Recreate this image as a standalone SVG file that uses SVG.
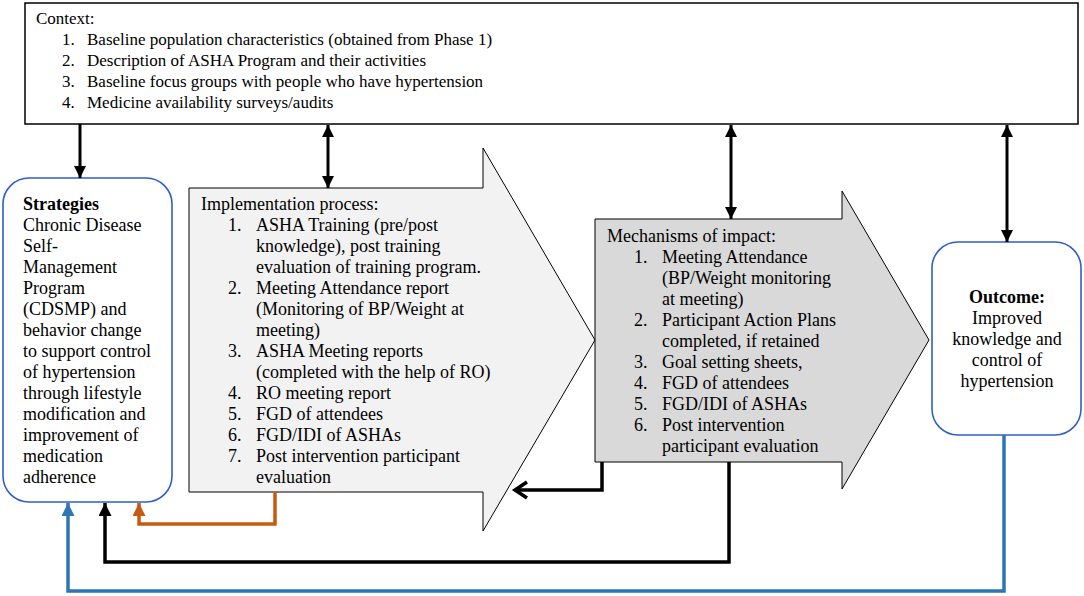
<svg xmlns="http://www.w3.org/2000/svg" width="1084" height="596" viewBox="0 0 1084 596">
<style>
text{font-family:"Liberation Serif","Times New Roman",serif;font-size:18px;fill:#000}
#context text{font-size:17px}
.b{font-weight:bold}
.box{fill:#fff;stroke:#000;stroke-width:1.5}
.rbox{fill:#fff;stroke:#2f5fc4;stroke-width:1.6}
.k{fill:none;stroke:#000;stroke-width:3.5}
.o{fill:none;stroke:#c55a11;stroke-width:3.5}
.bl{fill:none;stroke:#2e75b6;stroke-width:3.5}
</style>
<defs>
<marker id="ak" markerUnits="userSpaceOnUse" markerWidth="12" markerHeight="12" refX="10" refY="5" orient="auto-start-reverse" viewBox="0 0 10 10"><path d="M0,0 L10,5 L0,10 z" fill="#000"/></marker>
<marker id="ao" markerUnits="userSpaceOnUse" markerWidth="13" markerHeight="13" refX="10" refY="5" orient="auto" viewBox="0 0 10 10"><path d="M0,0 L10,5 L0,10 z" fill="#c55a11"/></marker>
<marker id="ab" markerUnits="userSpaceOnUse" markerWidth="13" markerHeight="13" refX="10" refY="5" orient="auto" viewBox="0 0 10 10"><path d="M0,0 L10,5 L0,10 z" fill="#2e75b6"/></marker>
<marker id="akb" markerUnits="userSpaceOnUse" markerWidth="13" markerHeight="13" refX="10" refY="5" orient="auto" viewBox="0 0 10 10"><path d="M0,0 L10,5 L0,10 z" fill="#000"/></marker>
</defs>

<g id="context">
<rect class="box" x="25" y="3" width="1053" height="121"/>
<text x="36" y="24">Context:</text>
<text x="62" y="45">1.</text><text x="87" y="45">Baseline population characteristics (obtained from Phase 1)</text>
<text x="62" y="66">2.</text><text x="87" y="66">Description of ASHA Program and their activities</text>
<text x="62" y="87">3.</text><text x="87" y="87">Baseline focus groups with people who have hypertension</text>
<text x="62" y="108">4.</text><text x="87" y="108">Medicine availability surveys/audits</text>
</g>

<g id="strategies">
<rect class="rbox" x="3" y="178" width="169" height="324" rx="26"/>
<text class="b" x="23" y="210">Strategies</text>
<text x="23" y="231">Chronic Disease</text>
<text x="23" y="252">Self-</text>
<text x="23" y="273">Management</text>
<text x="23" y="294">Program</text>
<text x="23" y="315">(CDSMP) and</text>
<text x="23" y="336">behavior change</text>
<text x="23" y="357">to support control</text>
<text x="23" y="378">of hypertension</text>
<text x="23" y="399">through lifestyle</text>
<text x="23" y="420">modification and</text>
<text x="23" y="441">improvement of</text>
<text x="23" y="462">medication</text>
<text x="23" y="483">adherence</text>
</g>

<g id="implementation">
<polygon points="189,188 483,188 483,148 595,340 483,531 483,492 189,492" fill="#f2f2f2" stroke="#000" stroke-width="1"/>
<text x="201" y="210">Implementation process:</text>
<text x="228" y="231">1.</text><text x="256" y="231">ASHA Training (pre/post</text>
<text x="256" y="252">knowledge), post training</text>
<text x="256" y="273">evaluation of training program.</text>
<text x="228" y="294">2.</text><text x="256" y="294">Meeting Attendance report</text>
<text x="256" y="315">(Monitoring of BP/Weight at</text>
<text x="256" y="336">meeting)</text>
<text x="228" y="357">3.</text><text x="256" y="357">ASHA Meeting reports</text>
<text x="256" y="378">(completed with the help of RO)</text>
<text x="228" y="399">4.</text><text x="256" y="399">RO meeting report</text>
<text x="228" y="420">5.</text><text x="256" y="420">FGD of attendees</text>
<text x="228" y="441">6.</text><text x="256" y="441">FGD/IDI of ASHAs</text>
<text x="228" y="462">7.</text><text x="256" y="462">Post intervention participant</text>
<text x="256" y="483">evaluation</text>
</g>

<g id="mechanisms">
<polygon points="595,219 842,219 842,191 929,340 842,489 842,462 595,462" fill="#d9d9d9" stroke="#000" stroke-width="1"/>
<text x="607" y="242">Mechanisms of impact:</text>
<text x="634" y="263">1.</text><text x="662" y="263">Meeting Attendance</text>
<text x="662" y="284">(BP/Weight monitoring</text>
<text x="662" y="305">at meeting)</text>
<text x="634" y="326">2.</text><text x="662" y="326">Participant Action Plans</text>
<text x="662" y="347">completed, if retained</text>
<text x="634" y="368">3.</text><text x="662" y="368">Goal setting sheets,</text>
<text x="634" y="389">4.</text><text x="662" y="389">FGD of attendees</text>
<text x="634" y="410">5.</text><text x="662" y="410">FGD/IDI of ASHAs</text>
<text x="634" y="431">6.</text><text x="662" y="431">Post intervention</text>
<text x="662" y="452">participant evaluation</text>
</g>

<g id="outcome">
<rect class="rbox" x="932" y="242" width="149" height="193" rx="26"/>
<text class="b" x="1007" y="303" text-anchor="middle">Outcome:</text>
<text x="1007" y="324" text-anchor="middle">Improved</text>
<text x="1007" y="345" text-anchor="middle">knowledge and</text>
<text x="1007" y="366" text-anchor="middle">control of</text>
<text x="1007" y="387" text-anchor="middle">hypertension</text>
</g>

<g id="connectors">
<line x1="80" y1="124" x2="80" y2="178" stroke="#000" stroke-width="3" marker-end="url(#ak)"/>
<line x1="328" y1="125" x2="328" y2="188" stroke="#000" stroke-width="3" marker-start="url(#ak)" marker-end="url(#ak)"/>
<line x1="731" y1="125" x2="731" y2="219" stroke="#000" stroke-width="3" marker-start="url(#ak)" marker-end="url(#ak)"/>
<line x1="1007" y1="125" x2="1007" y2="242" stroke="#000" stroke-width="3" marker-start="url(#ak)" marker-end="url(#ak)"/>
<polyline class="k" points="602,462 602,490 516,490"/>
<polyline class="k" points="527,482 515,490 527,498" stroke-linejoin="miter"/>
<polyline class="k" points="729,462 729,562 105,562 105,503" marker-end="url(#akb)"/>
<polyline class="o" points="275,492 275,524 139,524 139,503" marker-end="url(#ao)"/>
<polyline class="bl" points="1004,435 1004,591 68,591 68,503" marker-end="url(#ab)"/>
</g>
</svg>
